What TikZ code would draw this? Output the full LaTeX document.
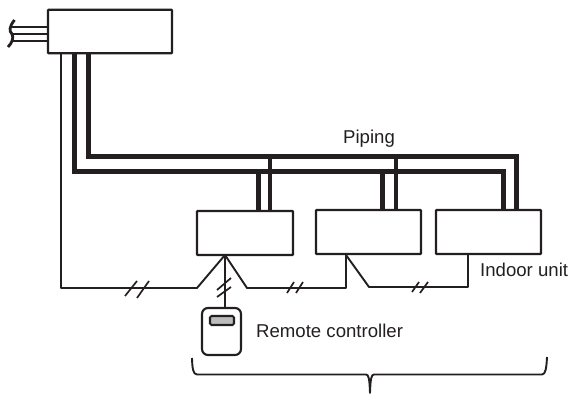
\documentclass[tikz,border=0pt]{standalone}
\usepackage{fontspec}
\setmainfont{Liberation Sans}
\definecolor{ink}{HTML}{231F20}
\tikzset{
  wire/.style={draw=ink,line width=1.9pt,line join=round},
  pipe/.style={draw=ink,line width=5pt,line join=miter},
  unitbox/.style={draw=ink,line width=2.1pt,fill=white,rounded corners=0.6pt,inner sep=0pt},
  tick/.style={draw=ink,line width=1.7pt},
  lbl/.style={text=ink,font=\fontsize{18.6pt}{20pt}\selectfont,inner sep=0pt,anchor=base west}
}
\begin{document}
\begin{tikzpicture}[x=1pt,y=-1pt]
\useasboundingbox (0,0) rectangle (571,395);
\coordinate (wa) at (12,27);\coordinate (wb) at (12,34);\coordinate (wc) at (12,41);
\coordinate (j1) at (61,288);\coordinate (j2) at (197,288);\coordinate (j3) at (225,255);
\coordinate (j4) at (247,288);\coordinate (j5) at (346,288);\coordinate (j6) at (346,255);
\coordinate (j7) at (369,287);\coordinate (j8) at (468,287);\coordinate (j9) at (468,255);
\draw[pipe] (88,53) -- (88,157) -- (516,157) -- (516,210);
\draw[pipe] (74.5,53) -- (74.5,172) -- (503,172) -- (503,210);
\draw[pipe] (258,172) -- (258,210);
\draw[pipe,line width=4.4pt] (270,157) -- (270,210);
\draw[pipe] (382,172) -- (382,210);
\draw[pipe,line width=4.4pt] (396,157) -- (396,210);
\node[unitbox,minimum width=124pt,minimum height=43.5pt] (odu) at (110,31.5) {};
\node[unitbox,minimum width=96pt,minimum height=44pt] (iu1) at (245,233) {};
\node[unitbox,minimum width=105pt,minimum height=44pt] (iu2) at (368.5,232) {};
\node[unitbox,minimum width=105pt,minimum height=44pt] (iu3) at (488.5,232) {};
\draw[wire,line width=2.1pt] (wa) -- (48,27) (wb) -- (48,34) (wc) -- (48,41);
\draw[draw=ink,line width=2.8pt] (14.5,20) .. controls (9,27) and (9,31) .. (12,34) .. controls (14,38) and (12,43) .. (8,47);
\draw[wire] (61,53) -- (j1) -- (j2) -- (j3) -- (j4) -- (j5) -- (j6) -- (j7) -- (j8) -- (j9);
\node[draw=ink,line width=2.1pt,rounded corners=6pt,minimum width=39pt,minimum height=47pt,inner sep=0pt] (rc) at (221.5,331.5) {};
\node[draw=ink,fill=ink!30,line width=2.1pt,rounded corners=1.5pt,minimum width=24pt,minimum height=9pt,inner sep=0pt] (scr) at (222,320.5) {};
\draw[wire] (j3) -- (rc.north -| j3);
\draw[tick] (125,296) -- (137,281) (137,298) -- (149,281);
\draw[tick] (217,290) -- (231,278) (217,297) -- (231,287);
\draw[tick] (287,293) -- (294,282) (296,293) -- (303,282);
\draw[tick] (412,292) -- (419,282) (420,293) -- (428,282);
\draw[wire] (192,358) .. controls (192.3,368) and (193,374.5) .. (197,374.5) -- (366,374.5) .. controls (368.5,374.5) and (369.5,378) .. (370,393) .. controls (370.5,378) and (371.5,374.5) .. (374,374.5) -- (542,374.5) .. controls (545.5,374.5) and (546.5,368) .. (547,357);
\node[lbl] (t1) at (343,144) {Piping};
\node[lbl] (t2) at (256,338) {Remote controller};
\node[lbl] (t3) at (480,277) {Indoor unit};
\end{tikzpicture}
\end{document}
